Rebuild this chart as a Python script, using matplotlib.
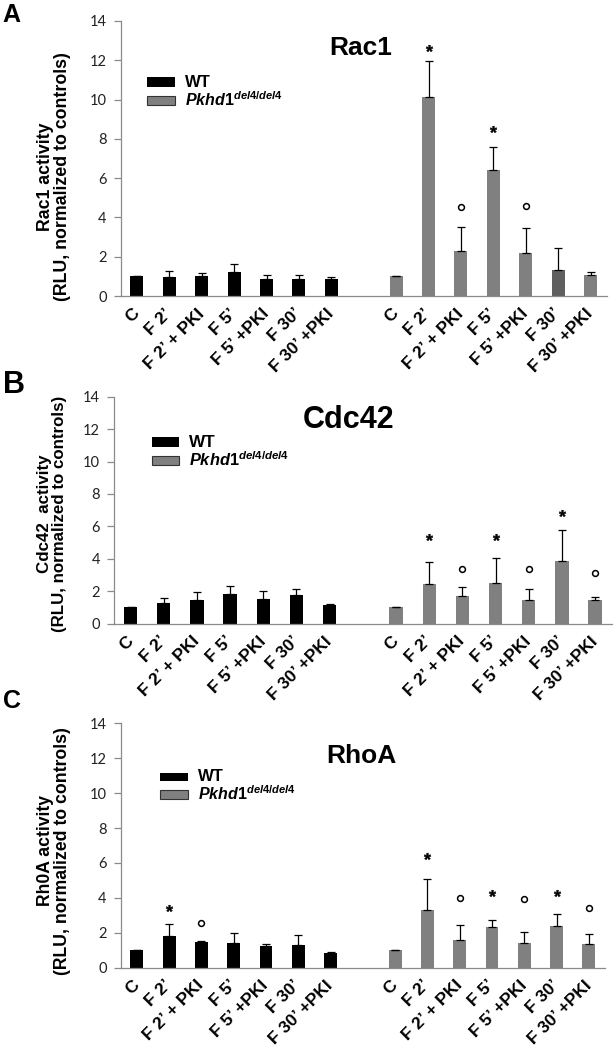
import matplotlib
matplotlib.use('Agg')
import matplotlib.pyplot as plt
from matplotlib.patches import Rectangle
from matplotlib.transforms import ScaledTranslation
import numpy as np

plt.rcParams['font.family'] = ['Liberation Sans', 'DejaVu Sans']
plt.rcParams['mathtext.fontset'] = 'custom'
plt.rcParams['mathtext.it'] = 'Liberation Sans:italic:bold'
plt.rcParams['mathtext.rm'] = 'Liberation Sans:bold'

labels = ['C', 'F 2\u2019', 'F 2\u2019 + PKI', 'F 5\u2019', 'F 5\u2019 +PKI',
          'F 30\u2019', 'F 30\u2019 +PKI']

# Rac1
rac1_wt = [1.0, 0.95, 1.0, 1.24, 0.85, 0.87, 0.88]
rac1_wt_err = [0.0, 0.32, 0.19, 0.41, 0.24, 0.22, 0.10]
rac1_mut = [1.0, 10.12, 2.27, 6.42, 2.2, 1.31, 1.09]
rac1_mut_err = [0.0, 1.83, 1.26, 1.15, 1.25, 1.12, 0.11]
rac1_wt_marks = []
rac1_mut_marks = [(1, '*', 12.61), (2, 'o', 4.55), (3, '*', 8.49), (4, 'o', 4.6)]

# Cdc42
cdc42_wt = [1.01, 1.30, 1.46, 1.81, 1.50, 1.77, 1.15]
cdc42_wt_err = [0.0, 0.27, 0.48, 0.50, 0.50, 0.37, 0.04]
cdc42_mut = [1.0, 2.43, 1.71, 2.49, 1.46, 3.89, 1.44]
cdc42_mut_err = [0.0, 1.40, 0.54, 1.55, 0.66, 1.88, 0.19]
cdc42_wt_marks = []
cdc42_mut_marks = [(1, '*', 5.33), (2, 'o', 3.36), (3, '*', 5.33), (4, 'o', 3.36),
                   (5, '*', 6.81), (6, 'o', 3.15)]

# RhoA
rhoa_wt = [1.0, 1.82, 1.49, 1.43, 1.26, 1.28, 0.82]
rhoa_wt_err = [0.0, 0.67, 0.06, 0.54, 0.08, 0.59, 0.06]
rhoa_mut = [1.0, 3.29, 1.59, 2.31, 1.43, 2.41, 1.36]
rhoa_mut_err = [0.0, 1.79, 0.86, 0.40, 0.63, 0.67, 0.59]
rhoa_wt_marks = [(1, '*', 3.4), (2, 'o', 2.58)]
rhoa_mut_marks = [(1, '*', 6.42), (2, 'o', 3.98), (3, '*', 4.26), (4, 'o', 3.92),
                  (5, '*', 4.26), (6, 'o', 3.4)]

W, H = 614, 1048
fig = plt.figure(figsize=(W / 100, H / 100), dpi=100)


def fx(x):
    return x / W


def fy(y):
    return 1 - y / H


# panel layout in pixels: (left, top, right, bottom) of the axes
panels = [
    dict(letter='A', title='Rac1', ylab='Rac1 activity', box=(120.7, 21, 606.7, 296),
         wt=rac1_wt, wt_err=rac1_wt_err, mut=rac1_mut, mut_err=rac1_mut_err,
         wt_marks=rac1_wt_marks, mut_marks=rac1_mut_marks,
         letter_pos=(2, 22, 18), title_pos=(360.5, 55, 19), ylab_pos=(54, 177, 12.8),
         leg=(147.3, 76.7, 87.3, 95.7, 105.5, 185, 11.5), dark=[5]),
    dict(letter='B', title='Cdc42', ylab='Cdc42  activity', box=(114, 396.7, 611.7, 623.7),
         wt=cdc42_wt, wt_err=cdc42_wt_err, mut=cdc42_mut, mut_err=cdc42_mut_err,
         wt_marks=cdc42_wt_marks, mut_marks=cdc42_mut_marks,
         letter_pos=(3, 393, 22), title_pos=(348.5, 428.3, 22), ylab_pos=(52, 514, 12.2),
         leg=(151.7, 437.3, 446.7, 455.7, 465.5, 189.3, 11.8), dark=[]),
    dict(letter='C', title='RhoA', ylab='Rh0A activity', box=(120.7, 723.3, 605, 967.7),
         wt=rhoa_wt, wt_err=rhoa_wt_err, mut=rhoa_mut, mut_err=rhoa_mut_err,
         wt_marks=rhoa_wt_marks, mut_marks=rhoa_mut_marks,
         letter_pos=(3, 708, 18), title_pos=(361, 763.3, 19), ylab_pos=(54, 851, 12.7),
         leg=(160, 772.7, 781, 790, 799.5, 198, 11.5), dark=[]),
]

x_wt = np.arange(7)
x_mut = np.arange(8, 15)
axis_gray = '#8a8a8a'

for p in panels:
    l, t, r, b = p['box']
    ax = fig.add_axes([fx(l), fy(b), (r - l) / W, (b - t) / H])
    mut_colors = ['#5f5f5f' if i in p['dark'] else '#808080' for i in range(7)]
    ax.bar(x_wt, p['wt'], 0.4, color='black', zorder=2)
    ax.bar(x_mut, p['mut'], 0.4, color=mut_colors, zorder=2)
    ax.errorbar(x_wt, p['wt'], yerr=[np.zeros(7), p['wt_err']], fmt='none',
                ecolor='black', elinewidth=0.9, capsize=3.2, capthick=0.9, zorder=3)
    ax.errorbar(x_mut, p['mut'], yerr=[np.zeros(7), p['mut_err']], fmt='none',
                ecolor='black', elinewidth=0.9, capsize=3.2, capthick=0.9, zorder=3)
    for xs, marks in ((x_wt, p['wt_marks']), (x_mut, p['mut_marks'])):
        for i, sym, yv in marks:
            if sym == '*':
                ax.plot(xs[i], yv, marker='$*$', ms=5, color='black', mew=0.3)
            else:
                ax.plot(xs[i], yv, marker='o', ms=4.2, mfc='none', mec='black', mew=1.1)

    ax.set_xlim(-0.5, 14.5)
    ax.set_ylim(0, 14)
    ax.set_yticks(range(0, 15, 2))
    ax.set_yticklabels([str(v) for v in range(0, 15, 2)], family='Lato', fontsize=10.5,
                       color='#222222')
    ax.set_xticks(np.concatenate([x_wt, x_mut]))
    ax.set_xticklabels(labels + labels, rotation=45, ha='right', va='center',
                       rotation_mode='anchor', fontweight='bold', fontsize=12.5)
    off = ScaledTranslation(7 / 100, 0, fig.dpi_scale_trans)
    for lab in ax.get_xticklabels():
        lab.set_transform(lab.get_transform() + off)
    ax.tick_params(axis='x', length=0, pad=11)
    ax.tick_params(axis='y', length=5, width=0.9, color=axis_gray, pad=5)
    for s in ('top', 'right'):
        ax.spines[s].set_visible(False)
    for s in ('left', 'bottom'):
        ax.spines[s].set_color(axis_gray)
        ax.spines[s].set_linewidth(0.9)

    lx, ly, ls = p['letter_pos']
    fig.text(fx(lx), fy(ly), p['letter'], fontsize=ls, fontweight='bold', va='baseline')
    tx, ty, ts = p['title_pos']
    fig.text(fx(tx), fy(ty), p['title'], fontsize=ts, fontweight='bold', ha='center',
             va='baseline')
    yx, yy, ys = p['ylab_pos']
    fig.text(fx(yx), fy(yy), p['ylab'] + '\n(RLU, normalized to controls)', rotation=90,
             fontsize=ys, fontweight='bold', ha='center', va='center',
             multialignment='center', linespacing=1.0)

    px0, wt_t, wt_b, mu_t, mu_b, tx0, fs = p['leg']
    fig.patches.append(Rectangle((fx(px0), fy(wt_b)), 27.7 / W, (wt_b - wt_t) / H,
                                 transform=fig.transFigure, facecolor='black',
                                 edgecolor='none'))
    fig.patches.append(Rectangle((fx(px0), fy(mu_b - 0.5)), 27.7 / W, (mu_b - 0.5 - mu_t) / H,
                                 transform=fig.transFigure, facecolor='#808080',
                                 edgecolor='#333333', linewidth=0.8))
    fig.text(fx(tx0), fy(wt_b), 'WT', fontsize=fs + 0.5, fontweight='bold', va='baseline')
    fig.text(fx(tx0), fy(mu_b), r'$\mathit{Pkhd1}^{\mathit{del4/del4}}$', fontsize=fs,
             va='baseline')

fig.savefig('out.png', dpi=100)
